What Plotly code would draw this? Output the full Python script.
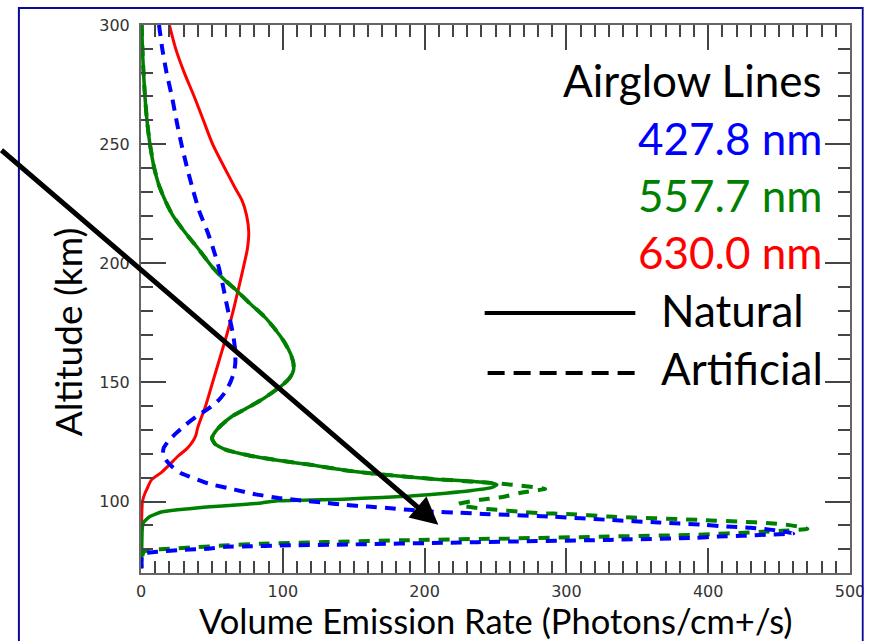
import plotly.graph_objects as go

# ---------------- data ----------------
# 630.0 nm, natural (red solid)
alt_red = [300, 290, 280, 270, 260, 250, 240, 232, 226, 220, 213, 206, 199, 190,
           180, 170, 160, 150, 140, 131, 128, 126, 124, 122, 119, 115.4, 112, 109.1,
           105, 103.5, 100, 97, 90, 80, 72]
x_red = [20, 24.5, 30.5, 37.5, 44, 50.5, 59, 66, 71.5, 74.5, 76, 75, 72.5, 69,
         65, 60.5, 55.5, 50.5, 45.5, 40, 38.8, 37.3, 35, 32, 26, 20, 14, 7.4,
         4, 2.8, 1, 0.7, 0.4, 0.3, 0.2]

# 557.7 nm, natural (green solid)
alt_green = [300, 290, 280, 270, 260, 250, 240, 233, 226, 220, 213, 206, 198.6, 193,
             188.8, 183, 177.6, 172, 167, 162, 158, 155, 152, 149, 145.5, 142.7,
             139, 135.7, 132, 129, 126.5, 124, 121.7, 118.9, 117, 115.4, 113,
             111.2, 109.5, 107.8, 107, 105.8, 104.5, 103.5, 102.3, 101.7, 101,
             100.3, 99.4, 98.3, 97.3, 95.7, 93.6, 91, 88, 80, 72]
x_green = [0.5, 1, 1.8, 2.8, 4.2, 6.3, 9.3, 12.5, 17.3, 22.5, 31, 40.5, 50, 59,
           67, 77, 87, 95, 101, 105.5, 107.5, 107.5, 105, 100, 92, 85,
           74, 64, 56.5, 52, 50, 52.5, 60, 80, 100, 119.6, 145,
           172, 206, 247, 251, 247, 232, 215, 190, 170, 143,
           96, 85, 62, 39, 15, 6, 1.5, 0.8, 0.5, 0.3]

# 557.7 nm, artificial (green dashed)
alt_green_art = [300, 290, 280, 270, 260, 250, 240, 233, 226, 220, 213, 206, 198.6, 193,
                 188.8, 183, 177.6, 172, 167, 162, 158, 155, 152, 149, 145.5, 142.7,
                 139, 135.7, 132, 129, 126.5, 124, 121.7, 118.9, 117, 115.4, 113,
                 111.2, 109.5, 107.8, 107, 106, 105.3, 103.7, 101.9,
                 100.7, 99.8, 99, 98.3, 97.3, 96.5, 95.8, 95.1, 94.8, 93.7, 92.3,
                 91.5, 91, 90.2, 89.2, 88.5, 87.7, 87.3, 86.8, 86.4, 86, 85.3, 84.5,
                 83.8, 83, 82.3, 81.5, 80.8, 80.2, 79.7, 79, 76, 72]
x_green_art = [0.5, 1, 1.8, 2.8, 4.2, 6.3, 9.3, 12.5, 17.3, 22.5, 31, 40.5, 50, 59,
               67, 77, 87, 95, 101, 105.5, 107.5, 107.5, 105, 100, 92, 85,
               74, 64, 56.5, 52, 50, 52.5, 60, 80, 100, 119.6, 145,
               172, 206, 247, 262, 278, 285, 268, 255,
               239, 230, 224, 226, 237, 251, 266, 282, 300, 330, 393,
               425, 441, 456, 466, 470, 452, 438, 421, 405, 390, 330, 260,
               190, 130, 85, 58, 38, 20, 7, 2, 0.5, 0.3]

# 427.8 nm, artificial (blue dashed)
alt_blue_art = [300, 290, 280, 270, 260, 250, 240, 230, 222, 213, 205, 198, 190, 184,
                177, 170, 163, 158, 154, 150, 146, 142.7, 139, 135.7, 132, 128.8,
                125.5, 122.5, 120, 117.5, 114.6, 112, 110.5, 108, 107, 105, 103,
                101.5, 100.4, 99.6, 98.6, 97.9, 97.2, 96.5, 95.8, 95.3, 94.8, 94.4,
                93.6, 92.3, 91.2, 90.2, 89.5, 89, 88.1, 87.2, 86.6, 86.1, 85.6, 85.3,
                84.8, 83.9, 83.2, 82.7, 82, 81.5, 81.2, 81, 80.2, 79.7, 78.9, 78.4,
                77.5, 72]
x_blue_art = [12.7, 15, 18, 21.8, 25, 28.5, 32.5, 37, 41, 47, 51.5, 55, 58, 60,
              62.5, 65, 66.5, 66.5, 65.5, 63, 59.5, 55, 47.5, 39, 31, 25,
              19.5, 16, 15.5, 17.5, 22, 28, 34, 45, 51, 66, 81,
              97, 113, 128, 143, 160, 176, 189, 205, 225, 241, 258,
              291, 330, 365, 398, 413, 430, 445, 455, 460, 442, 424, 407,
              391, 330, 260, 215, 150, 96, 78, 60, 47, 30, 11, 3,
              0.8, 0.3]

x_tick_vals = [0, 100, 200, 300, 400, 500]
y_tick_vals = [100, 150, 200, 250, 300]

legend_title = "Airglow Lines"
line_labels = ["427.8 nm", "557.7 nm", "630.0 nm"]
style_labels = ["Natural", "Artificial"]

BLUE = "#0000FF"
GREEN = "#008000"
RED = "#FF0000"
NAVY = "#0A0A96"
FONT = "Lato"

# ---------------- figure ----------------
W, H = 877, 641
ML, MR, MT, MB = 141, 16, 25, 68
PW, PH = W - ML - MR, H - MT - MB


def px(xp):
    return (xp - ML) / PW


def py(yp):
    return (H - MB - yp) / PH


SPL = dict(shape="spline", smoothing=0.5)

fig = go.Figure()
fig.add_trace(go.Scatter(x=x_red, y=alt_red, mode="lines", name="630.0 nm natural",
                         line=dict(color=RED, width=3, shape="spline", smoothing=0.8)))
fig.add_trace(go.Scatter(x=x_green, y=alt_green, mode="lines", name="557.7 nm natural",
                         line=dict(color=GREEN, width=3.5, **SPL)))
fig.add_trace(go.Scatter(x=x_green_art, y=alt_green_art, mode="lines", name="557.7 nm artificial",
                         line=dict(color=GREEN, width=4, dash="11px,9px", **SPL)))
fig.add_trace(go.Scatter(x=x_blue_art, y=alt_blue_art, mode="lines", name="427.8 nm artificial",
                         line=dict(color=BLUE, width=4, dash="11px,8px", **SPL)))

axis_common = dict(
    showline=True, linecolor="#666666", linewidth=2, mirror="allticks",
    ticks="inside", ticklen=25, tickwidth=1.5, tickcolor="#444444",
    showgrid=False, zeroline=False,
    tickfont=dict(family="DejaVu Sans", size=16, color="#333333"),
    minor=dict(dtick=10, ticks="inside", ticklen=12, tickwidth=1.5,
               tickcolor="#444444", showgrid=False),
)

fig.update_layout(
    width=W, height=H,
    margin=dict(l=ML, r=MR, t=MT, b=MB, pad=0),
    paper_bgcolor="white", plot_bgcolor="white",
    showlegend=False,
    xaxis=dict(range=[0, 500], tickvals=x_tick_vals, ticklabelstandoff=3, **axis_common),
    yaxis=dict(range=[70, 300], tickvals=y_tick_vals, ticklabelstandoff=6, **axis_common),
)

shapes = [
    # slide frame
    dict(type="rect", xref="paper", yref="paper", x0=px(17), x1=px(874), y0=py(700), y1=py(8),
         line=dict(color=NAVY, width=2), fillcolor="rgba(0,0,0,0)", layer="above"),
    dict(type="rect", xref="paper", yref="paper", x0=px(875), x1=px(900), y0=py(700), y1=py(-10),
         line=dict(width=0), fillcolor="white", layer="above"),
    # legend line samples
    dict(type="line", xref="paper", yref="paper", x0=px(490), x1=px(643), y0=py(313), y1=py(313),
         line=dict(color="black", width=4)),
    dict(type="line", xref="paper", yref="paper", x0=px(493), x1=px(645), y0=py(373), y1=py(373),
         line=dict(color="black", width=4, dash="17px,9px")),
]
fig.update_layout(shapes=shapes)

annots = []
big = 44
annots.append(dict(text=legend_title, xref="paper", yref="paper", x=px(835), y=py(80),
                   xanchor="right", yanchor="middle", showarrow=False,
                   font=dict(family=FONT, size=big, color="black")))
for lab, col, yc in zip(line_labels, [BLUE, GREEN, RED], [138, 195, 252]):
    annots.append(dict(text=lab, xref="paper", yref="paper", x=px(835), y=py(yc),
                       xanchor="right", yanchor="middle", showarrow=False,
                       font=dict(family=FONT, size=big, color=col)))
for lab, yc in zip(style_labels, [310, 368]):
    annots.append(dict(text=lab, xref="paper", yref="paper", x=px(667), y=py(yc),
                       xanchor="left", yanchor="middle", showarrow=False,
                       font=dict(family=FONT, size=big, color="black")))
# axis titles
annots.append(dict(text="Altitude (km)", xref="paper", yref="paper", x=px(66), y=py(332),
                   xanchor="center", yanchor="middle", textangle=-90, showarrow=False,
                   font=dict(family=FONT, size=37, color="black")))
annots.append(dict(text="Volume Emission Rate (Photons/cm+/s)", xref="paper", yref="paper",
                   x=px(501), y=py(621), xanchor="center", yanchor="middle", showarrow=False,
                   font=dict(family=FONT, size=34.5, color="black")))
# pointer arrow
annots.append(dict(text="", x=209.7, y=90.2, xref="x", yref="y", ax=-443, ay=-376,
                   showarrow=True, arrowhead=2, arrowsize=1.1, arrowwidth=5,
                   arrowcolor="black", standoff=0))
fig.update_layout(annotations=annots)

fig.write_html("out.html")
